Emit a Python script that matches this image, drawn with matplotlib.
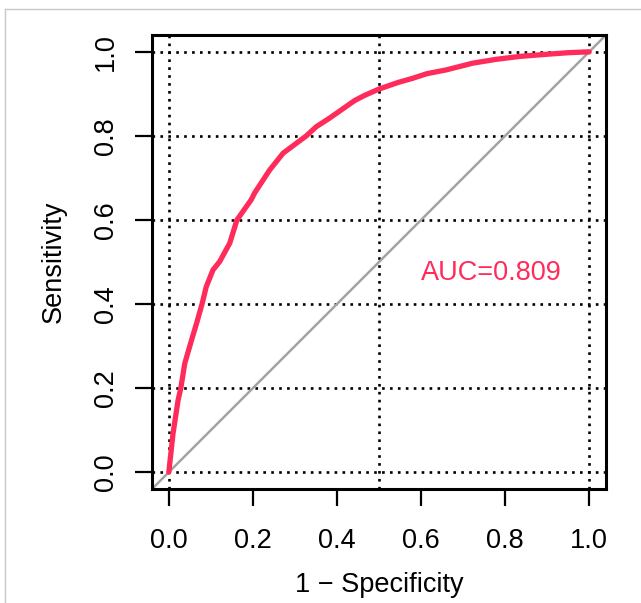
import numpy as np
import matplotlib
matplotlib.use('Agg')
import matplotlib.pyplot as plt
from matplotlib.lines import Line2D

plt.rcParams['font.family'] = ['Liberation Sans', 'DejaVu Sans']

# ROC curve
fpr = [0.0, 0.010, 0.022, 0.0285, 0.038, 0.054, 0.066, 0.079, 0.089, 0.105,
       0.121, 0.145, 0.162, 0.196, 0.204, 0.240, 0.272, 0.327, 0.351, 0.382,
       0.422, 0.442, 0.465, 0.499, 0.545, 0.580, 0.614, 0.660, 0.723, 0.778,
       0.834, 0.897, 0.952, 1.0]
tpr = [0.0, 0.092, 0.171, 0.200, 0.259, 0.314, 0.354, 0.400, 0.441, 0.481,
       0.501, 0.545, 0.600, 0.648, 0.664, 0.719, 0.759, 0.800, 0.822, 0.842,
       0.870, 0.884, 0.896, 0.911, 0.927, 0.937, 0.948, 0.957, 0.973, 0.982,
       0.989, 0.994, 0.998, 1.0]
auc_text = 'AUC=0.809'

xticks = [0.0, 0.2, 0.4, 0.6, 0.8, 1.0]
yticks = [0.0, 0.2, 0.4, 0.6, 0.8, 1.0]
vgrid = [0.0, 0.5, 1.0]
hgrid = [0.0, 0.2, 0.4, 0.6, 0.8, 1.0]

W, H = 641, 603
fig = plt.figure(figsize=(W / 100, H / 100), dpi=100)
ax = fig.add_axes([152 / W, 1 - 489 / H, (606 - 152) / W, (489 - 35) / H])

roc_col = '#FF2B5A'
dots = (0, (1, 2))

for x in vgrid:
    ax.axvline(x, color='black', lw=1.9, linestyle=dots, dash_capstyle='butt', zorder=1)
for y in hgrid:
    ax.axhline(y, color='black', lw=1.9, linestyle=dots, dash_capstyle='butt', zorder=1)

ax.axline((0, 0), slope=1, color='#A3A3A3', lw=1.8, zorder=2)
ax.plot(fpr, tpr, color=roc_col, lw=3.8, solid_capstyle='round',
        solid_joinstyle='round', zorder=3)
ax.text(0.767, 0.474, auc_text, color=roc_col, fontsize=19.5,
        ha='center', va='center')

ax.set_xlim(-0.04, 1.04)
ax.set_ylim(-0.04, 1.04)
ax.set_xticks(xticks)
ax.set_yticks(yticks)
ax.set_xticklabels([f'{v:.1f}' for v in xticks])
ax.set_yticklabels([f'{v:.1f}' for v in yticks])
ax.tick_params(axis='both', direction='out', length=12, width=1.6,
               labelsize=19.5, colors='black')
ax.tick_params(axis='x', pad=16)
ax.tick_params(axis='y', pad=12, labelrotation=90)
for lab in ax.get_yticklabels():
    lab.set_va('center')
for sp in ax.spines.values():
    sp.set_linewidth(2.2)
    sp.set_zorder(5)

fig.text(379 / W, 1 - 592 / H, '1 \u2212 Specificity', fontsize=19.5,
         ha='center', va='baseline')
fig.text(54 / W, 1 - 262 / H, 'Sensitivity', fontsize=19.5,
         rotation=90, ha='center', va='center')

# light grey frame of the screenshot
fig.add_artist(Line2D([4.5 / W, 4.5 / W], [0, 1 - 9 / H], color='#C8C8C8', lw=1))
fig.add_artist(Line2D([4.5 / W, 1], [1 - 9 / H, 1 - 9 / H], color='#C8C8C8', lw=1))

fig.savefig('out.png', dpi=100)
